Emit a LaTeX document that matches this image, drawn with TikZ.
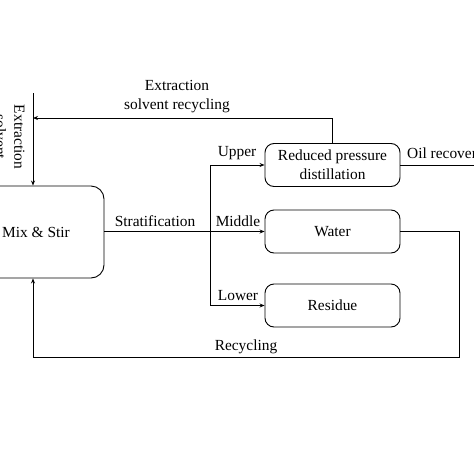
\documentclass[tikz,border=0pt]{standalone}
\usepackage{fontspec}
\setmainfont{Liberation Serif}
\usetikzlibrary{arrows.meta}
\begin{document}
\begin{tikzpicture}[x=1pt,y=-1pt,
  every node/.style={font=\fontsize{15.4}{19}\selectfont},
  box/.style={draw,line width=0.9pt,rounded corners=9pt,minimum width=135pt,minimum height=43pt,inner sep=0pt,align=center},
  bigbox/.style={draw,line width=0.9pt,rounded corners=13pt,minimum width=136pt,minimum height=92pt,inner sep=0pt},
  conn/.style={line width=0.8pt},
  arr/.style={line width=0.8pt,-{Stealth[length=5pt,width=4pt]}},
  lbl/.style={inner sep=0pt}]
\useasboundingbox (0,0) rectangle (474,474);
\node[bigbox] (mix) at (36,232) {Mix \& Stir};
\node[box] (red) at (332.5,165) {\fontsize{15.4}{18}\selectfont Reduced pressure\\distillation};
\node[box] (wat) at (332.5,231.5) {Water};
\node[box] (res) at (332.5,305.5) {Residue};
% extraction solvent feed
\coordinate (feed) at (33,93);
\draw[arr] (feed) -- (feed |- mix.north);
\node[lbl,rotate=-90,align=center] (ext) at (10,137) {Extraction\\solvent};
% solvent recycling
\coordinate (sr) at (red.north |- 0,118);
\draw[conn] (red.north) -- (sr);
\draw[arr] (sr) -- (33,118);
\node[lbl,align=center] (srl) at (177,97) {Extraction\\solvent recycling};
% stratification
\draw[arr] (mix.east |- wat.west) -- (wat.west);
\node[lbl] (strat) at (155,221) {Stratification};
\coordinate (bu) at (210,165);
\coordinate (bl) at (210,305.5);
\draw[conn] (bu) -- (bl);
\draw[arr] (bu) -- (red.west);
\draw[arr] (bl) -- (res.west);
\node[lbl] (up) at (237,153) {Upper};
\node[lbl] (mid) at (238,221) {Middle};
\node[lbl] (low) at (238,296) {Lower};
% oil recovery
\coordinate (oil) at (480,165);
\draw[conn] (red.east) -- (oil);
\node[lbl,anchor=west] (oill) at (407,155) {Oil recovery};
% recycling
\coordinate (r1) at (459,231.5);
\coordinate (r2) at (459,357);
\coordinate (r3) at (33,357);
\draw[conn] (wat.east) -- (r1) -- (r2) -- (r3);
\draw[arr] (r3) -- (r3 |- mix.south);
\node[lbl] (rec) at (246,347) {Recycling};
\end{tikzpicture}
\end{document}
